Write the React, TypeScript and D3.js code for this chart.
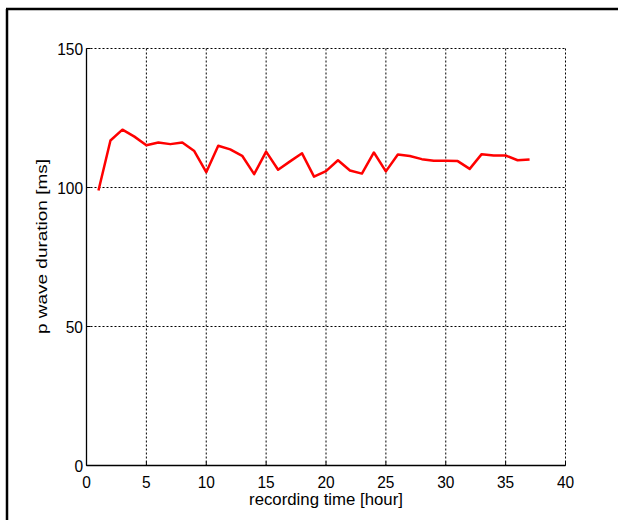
import React from "react";
import * as d3 from "d3";

const hours = [1,2,3,4,5,6,7,8,9,10,11,12,13,14,15,16,17,18,19,20,21,22,23,24,25,26,27,28,29,30,31,32,33,34,35,36,37];
const pwave = [98.9,116.9,120.8,118.3,115.2,116.2,115.6,116.2,113.1,105.5,115.0,113.7,111.4,104.8,112.9,106.4,109.4,112.3,103.9,105.9,109.8,106.1,105.0,112.6,105.8,111.9,111.3,110.2,109.6,109.6,109.5,106.7,112.0,111.5,111.5,109.8,110.1];
const xTicks = [0,5,10,15,20,25,30,35,40];
const yTicks = [0,50,100,150];

const W = 618, H = 520;
const L = 86.5, R = 565.5, T = 48.5, B = 465.5;

export default function App() {
  const x = d3.scaleLinear().domain([0, 40]).range([L, R]);
  const y = d3.scaleLinear().domain([0, 150]).range([B, T]);
  const line = d3.line<number>().x((_, i) => x(hours[i])).y((d) => y(d));
  const font = "'Liberation Sans', Arial, sans-serif";
  return (
    <svg width={W} height={H} style={{ position: "absolute", left: 0, top: 0, background: "#fff" }}>
      <rect x={0} y={0} width={W} height={H} fill="#fff" />
      {/* frame */}
      <line x1={7} y1={9} x2={7} y2={H} stroke="#000" strokeWidth={2.5} />
      <line x1={6} y1={9} x2={W} y2={9} stroke="#000" strokeWidth={2.5} />
      {/* grid */}
      {xTicks.filter((t) => t > 0).map((t) => (
        <line key={"gx" + t} x1={x(t)} x2={x(t)} y1={T} y2={B} stroke="#000" strokeWidth={1} strokeDasharray="2,2" />
      ))}
      {yTicks.filter((t) => t > 0).map((t) => (
        <line key={"gy" + t} x1={L} x2={R} y1={y(t)} y2={y(t)} stroke="#000" strokeWidth={1} strokeDasharray="2,2" />
      ))}
      {/* axes */}
      <line x1={L} x2={L} y1={T} y2={B} stroke="#000" strokeWidth={1.3} />
      <line x1={L} x2={R} y1={B} y2={B} stroke="#000" strokeWidth={1.3} />
      {/* ticks */}
      {xTicks.map((t) => (
        <line key={"tx" + t} x1={x(t)} x2={x(t)} y1={B} y2={B - 4} stroke="#000" strokeWidth={1} />
      ))}
      {yTicks.map((t) => (
        <line key={"ty" + t} x1={L} x2={L + 4} y1={y(t)} y2={y(t)} stroke="#000" strokeWidth={1} />
      ))}
      {/* data */}
      <path d={line(pwave) || ""} fill="none" stroke="#ff0000" strokeWidth={2.5} strokeLinejoin="round" />
      {/* tick labels */}
      {xTicks.map((t) => (
        <text key={"lx" + t} transform={`translate(${x(t)},488) scale(1,1.1)`} textAnchor="middle" fontFamily={font} fontSize={15.5} fill="#000">{t}</text>
      ))}
      {yTicks.map((t) => (
        <text key={"ly" + t} transform={`translate(83,${y(t) + 6}) scale(1,1.1)`} textAnchor="end" fontFamily={font} fontSize={15.5} fill="#000">{t}</text>
      ))}
      <text x={(L + R) / 2} y={505} textAnchor="middle" fontFamily={font} fontSize={16.8} fill="#000">recording time [hour]</text>
      <text transform={`translate(47,246.5) rotate(-90)`} textAnchor="middle" fontFamily={font} fontSize={15} textLength={175} lengthAdjust="spacingAndGlyphs" fill="#000">p wave duration [ms]</text>
    </svg>
  );
}
